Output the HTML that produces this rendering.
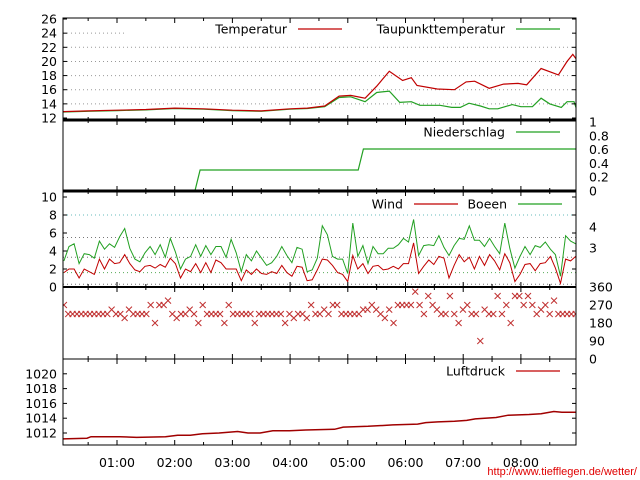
<!DOCTYPE html>
<html><head><meta charset="utf-8"><style>
body{margin:0;background:#fff}
svg{display:block;font-family:"DejaVu Sans","Liberation Sans",sans-serif;font-size:12.5px}
</style></head><body>
<svg id="c" width="640" height="480" viewBox="0 0 640 480">
<defs><clipPath id="pc"><rect x="63" y="18" width="513" height="427"/></clipPath></defs>
<g id="grid"></g>
<g id="series" clip-path="url(#pc)"></g>
<g id="axes"></g>
<g id="labels"></g>
<text x="637" y="475" text-anchor="end" fill="#e00000" font-size="11" font-family="Liberation Sans,sans-serif">http://www.tiefflegen.de/wetter/</text>
</svg>
<script>
// ---- data ----
const hourLabels=["01:00","02:00","03:00","04:00","05:00","06:00","07:00","08:00"];
const hourValues=[1,2,3,4,5,6,7,8];
const tempTimes=[0.07,0.5,1.0,1.5,2.0,2.5,3.0,3.5,4.0,4.3,4.6,4.85,5.05,5.3,5.5,5.72,5.95,6.1,6.2,6.55,6.85,7.05,7.2,7.45,7.7,7.95,8.1,8.35,8.65,8.8,8.9,8.97];
const tempValues=[12.9,13.0,13.1,13.2,13.4,13.3,13.1,13.0,13.3,13.4,13.7,15.1,15.2,14.8,16.5,18.6,17.3,17.7,16.6,16.1,16.0,17.1,17.2,16.2,16.8,16.9,16.7,19.0,18.1,20.0,21.0,20.2];
const dewTimes=[0.07,0.5,1.0,1.5,2.0,2.5,3.0,3.5,4.0,4.3,4.6,4.85,5.05,5.3,5.5,5.72,5.9,6.1,6.25,6.6,6.8,6.95,7.1,7.3,7.45,7.6,7.85,8.0,8.2,8.35,8.5,8.7,8.8,8.92,8.97];
const dewValues=[12.85,12.95,13.05,13.15,13.35,13.25,13.05,12.95,13.25,13.35,13.6,14.9,15.0,14.3,15.6,15.8,14.2,14.3,13.8,13.8,13.5,13.5,14.1,13.7,13.3,13.3,13.9,13.6,13.6,14.8,14.0,13.5,14.3,14.3,13.1];
const rainTimes=[0.07,2.35,2.44,5.18,5.27,8.97];
const rainValues=[0,0,0.3,0.3,0.6,0.6];
const gustValues=[2.9,4.5,4.8,2.6,3.7,3.6,3.2,5.1,4.2,4.8,4.4,5.6,6.5,4.3,3.1,2.8,3.8,4.5,3.6,4.7,3.3,5.4,3.9,2.0,3.1,3.4,4.7,3.4,4.6,3.6,4.5,4.5,3.3,5.3,3.8,1.7,3.6,2.9,4.0,3.2,2.4,2.7,3.4,4.5,3.5,2.7,4.4,4.2,1.7,1.9,3.2,6.8,5.8,3.4,3.1,3.1,1.5,7.1,3.4,4.6,2.6,4.5,3.7,3.7,4.3,4.3,4.7,5.4,5.0,7.5,3.5,4.6,4.7,4.6,5.7,4.4,3.5,4.6,5.4,5.3,6.8,5.2,5.2,4.5,5.4,4.5,3.7,7.1,4.3,2.1,3.4,4.5,3.6,4.6,4.4,5.0,4.2,3.6,1.2,5.7,5.1,4.8];
const windValues=[1.6,2.0,2.0,1.0,2.0,1.7,1.4,3.1,2.0,3.1,2.6,2.7,3.6,2.6,1.9,1.7,2.3,2.4,2.1,2.5,2.2,3.2,2.6,1.0,2.0,1.7,2.6,1.6,2.7,1.6,3.0,2.7,2.0,2.0,2.0,0.7,1.9,1.4,2.0,1.5,1.4,1.7,1.5,2.4,1.6,1.2,2.3,2.2,0.7,0.8,1.9,3.1,3.0,2.4,1.6,1.4,0.6,3.5,2.0,2.6,1.5,2.3,2.4,1.9,2.0,2.3,2.0,2.6,2.6,4.9,1.5,2.3,3.0,2.5,3.4,3.2,1.0,2.4,3.6,2.8,3.3,2.0,3.4,2.4,3.6,2.9,1.9,3.7,2.7,0.6,1.4,2.5,2.6,1.8,2.6,2.7,3.4,2.1,0.4,3.1,2.9,3.4];
const dirValues=[270,225,225,225,225,225,225,225,225,225,225,247,225,225,205,247,225,225,225,225,270,180,270,270,292,225,205,225,225,247,225,180,270,225,225,225,225,180,270,225,225,225,225,225,180,225,225,225,225,225,225,180,225,205,225,225,205,270,225,225,247,225,270,270,225,225,225,225,225,247,247,270,247,225,205,247,180,270,270,270,270,337,270,225,315,270,247,225,225,315,225,180,247,270,225,225,90,247,225,225,315,225,270,180,315,315,270,315,270,225,247,270,225,292,225,225,225,225,225];
const pressTimes=[0.07,0.48,0.55,1.05,1.34,1.84,2.05,2.27,2.48,2.77,3.09,3.27,3.48,3.70,3.99,4.27,4.77,4.92,5.35,5.78,6.21,6.35,6.56,6.85,7.06,7.21,7.57,7.78,8.14,8.35,8.57,8.71,8.97];
const pressValues=[1011.2,1011.3,1011.5,1011.5,1011.4,1011.5,1011.7,1011.7,1011.9,1012.0,1012.2,1012.0,1012.0,1012.3,1012.3,1012.4,1012.5,1012.8,1012.9,1013.1,1013.2,1013.4,1013.5,1013.6,1013.7,1013.9,1014.1,1014.4,1014.5,1014.6,1014.9,1014.8,1014.8];
const tempTicks=[12,14,16,18,20,22,24,26];
const rainTicks=[0,0.2,0.4,0.6,0.8,1];
const windTicks=[0,2,4,6,8,10];
const dirTicks=[0,90,180,270,360];
const pressTicks=[1012,1014,1016,1018,1020];
// ---- axes ----
const X0=63,X1=576,T0=0.07,T1=8.97;
const xs=t=>59.3+t*57.7;
const yTemp=v=>118-(v-12)*7.07;
const yRain=v=>191-v*70;
const yWind=v=>287-v*9;
const yDir=v=>359-v*0.2;
const yPress=v=>433-(v-1012)*7.4;
const tAt=(i,n)=>0.08+i*(8.95-0.08)/(n-1);
const NS="http://www.w3.org/2000/svg";
function mk(tag,attrs,parent,text){const e=document.createElementNS(NS,tag);for(const k in attrs)e.setAttribute(k,attrs[k]);if(text!==undefined)e.textContent=text;parent.appendChild(e);return e;}
const G=document.getElementById('grid'),S=document.getElementById('series'),A=document.getElementById('axes'),L=document.getElementById('labels');
const RED="#c00000",GRN="#22a022";
function line(ts,vs,yf,color,name,w){const pts=ts.map((t,i)=>xs(t).toFixed(1)+","+yf(vs[i]).toFixed(1)).join(" ");const p=mk('polyline',{points:pts,fill:"none",stroke:color,"stroke-width":w||1.2},S);

}
// grid
[14,16,18,20,22].forEach(v=>{const g=mk('line',{x1:X0,x2:X1,y1:yTemp(v),y2:yTemp(v),stroke:"#999","stroke-dasharray":"1,3"},G);

});
const g24=mk('line',{x1:X0,x2:125,y1:yTemp(24),y2:yTemp(24),stroke:"#999","stroke-dasharray":"1,3"},G);


[[8,"#6bb"],[5.5,"#777"],[3.3,"#777"],[1.6,"#5a5"],[0.3,"#777"]].forEach(a=>{const g=mk('line',{x1:X0,x2:X1,y1:yWind(a[0]),y2:yWind(a[0]),stroke:a[1],"stroke-dasharray":"1,3"},G);

});
// series
line(dewTimes,dewValues,yTemp,GRN,'dewpoint-line');
line(tempTimes,tempValues,yTemp,RED,'temperature-line');
line(rainTimes,rainValues,yRain,GRN,'precipitation-line');
line(gustValues.map((v,i)=>tAt(i,gustValues.length)),gustValues,yWind,GRN,'gust-line',1);
line(windValues.map((v,i)=>tAt(i,windValues.length)),windValues,yWind,RED,'wind-line',1);
line(pressTimes,pressValues,yPress,"#a00000",'pressure-line',1.5);
dirValues.forEach((v,i)=>{const cx=xs(tAt(i,dirValues.length)),cy=yDir(v);
const m=mk('path',{d:`M${cx-3},${cy-3}L${cx+3},${cy+3}M${cx-3},${cy+3}L${cx+3},${cy-3}`,stroke:"#c03030","stroke-width":1,fill:"none"},S);

});
// panel frames
const panels=[[18,120],[120,191],[191,287],[287,359],[359,445]];
panels.forEach((p,k)=>{const r=mk('rect',{x:X0,y:p[0],width:X1-X0,height:p[1]-p[0],fill:"none",stroke:"#000","stroke-width":1},A);


for(let h=0.5;h<9;h+=0.5){const x=xs(h);const len=(h%1===0)?5:3;
mk('line',{x1:x,x2:x,y1:p[0],y2:p[0]+len,stroke:"#000"},A);mk('line',{x1:x,x2:x,y1:p[1],y2:p[1]-len,stroke:"#000"},A);}});
[120,191].forEach(y=>{const b=mk('line',{x1:X0,x2:X1,y1:y,y2:y,stroke:"#000","stroke-width":3},A);

});
mk('line',{x1:X0,x2:X1,y1:287,y2:287,stroke:"#000","stroke-width":2},A);
// tick labels
function leftTicks(ticks,yf,name){ticks.forEach(v=>{const y=yf(v);mk('line',{x1:X0,x2:X0+4,y1:y,y2:y,stroke:"#000"},A);mk('line',{x1:X1,x2:X1-4,y1:y,y2:y,stroke:"#000"},A);
const t=mk('text',{x:X0-6,y:y+4.5,"text-anchor":"end"},L,String(v));

});}
function rightTicks(ticks,yf,name){ticks.forEach(v=>{const y=yf(v);
const t=mk('text',{x:589,y:y+4.5,"text-anchor":"start"},L,String(v));

});}
leftTicks(tempTicks,yTemp,'temp-tick-label');
leftTicks(windTicks,yWind,'wind-tick-label');
leftTicks(pressTicks,yPress,'pressure-tick-label');
rightTicks(rainTicks,v=>122+(1-v)*69,'precip-tick-label');
rightTicks(dirTicks,yDir,'direction-tick-label');
[[4,227],[3,248]].forEach(a=>{const t=mk('text',{x:589,y:a[1]+4.5},L,String(a[0]));

});
hourLabels.forEach((s,i)=>{const t=mk('text',{x:xs(hourValues[i]),y:467,"text-anchor":"middle"},L,s);

});
// legends
function legend(label,xe,y,color,name){const bg=mk('rect',{x:xe-100,y:y-10,width:1,height:1,fill:"none"},L);
const t=mk('text',{x:xe,y:y+4.5,"text-anchor":"end"},L,label);


const l=mk('line',{x1:xe+11,x2:xe+55,y1:y,y2:y,stroke:color,"stroke-width":1.2},L);

}
legend("Temperatur",287,29,RED,'legend-temperature');
legend("Taupunkttemperatur",505,29,GRN,'legend-dewpoint');
legend("Niederschlag",505,132,GRN,'legend-precipitation');
legend("Wind",403,204,RED,'legend-wind');
legend("Boeen",507,204,GRN,'legend-gusts');
legend("Luftdruck",505,371,RED,'legend-pressure');
</script>
</body></html>
